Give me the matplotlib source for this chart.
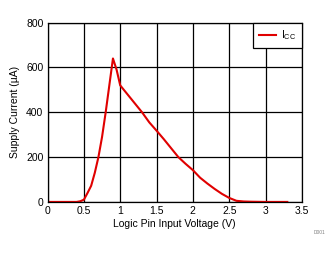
import matplotlib

matplotlib.use("Agg")
import matplotlib.pyplot as plt

plt.rcParams["font.family"] = ["Liberation Sans", "DejaVu Sans"]

# Supply current vs logic pin input voltage
voltage = [0.0, 0.4, 0.45, 0.5, 0.55, 0.6, 0.65, 0.7, 0.75, 0.8, 0.85, 0.9,
           0.92, 0.95, 1.0, 1.1, 1.2, 1.3, 1.4, 1.5, 1.6, 1.7, 1.8, 1.9, 2.0,
           2.1, 2.2, 2.3, 2.4, 2.5, 2.6, 2.7, 2.8, 3.0, 3.3]
icc = [0, 0, 3, 10, 40, 72, 130, 200, 290, 400, 520, 640,
       620, 590, 520, 480, 440, 400, 355, 318, 280, 240, 200, 170, 142,
       108, 82, 58, 36, 18, 5, 2, 1, 0, 0]

x_ticks = [0, 0.5, 1, 1.5, 2, 2.5, 3, 3.5]
x_tick_labels = ["0", "0.5", "1", "1.5", "2", "2.5", "3", "3.5"]
y_ticks = [0, 200, 400, 600, 800]

fig = plt.figure(figsize=(3.35, 2.54), dpi=100)
ax = fig.add_axes([0.142, 0.205, 0.759, 0.706])

ax.plot(voltage, icc, color="#e00000", linewidth=1.5, label="I$_{\\mathregular{CC}}$")

ax.set_xlim(0, 3.5)
ax.set_ylim(0, 800)
ax.set_xticks(x_ticks)
ax.set_xticklabels(x_tick_labels)
ax.set_yticks(y_ticks)
ax.tick_params(length=0, labelsize=7.5, pad=3)
ax.grid(True, color="black", linewidth=0.9)
for s in ax.spines.values():
    s.set_linewidth(0.9)

ax.set_xlabel("Logic Pin Input Voltage (V)", fontsize=7.5, labelpad=2)
ax.set_ylabel("Supply Current (µA)", fontsize=7.5, labelpad=4)

leg = ax.legend(loc="upper right", fontsize=7.5, fancybox=False, framealpha=1,
                edgecolor="black", borderaxespad=0, handlelength=1.6,
                handletextpad=0.5, borderpad=0.55)
leg.get_frame().set_linewidth(0.9)

fig.text(0.955, 0.08, "D001", fontsize=3.5, color="#808080", ha="center")

plt.savefig("out.png", dpi=100)
plt.close()
